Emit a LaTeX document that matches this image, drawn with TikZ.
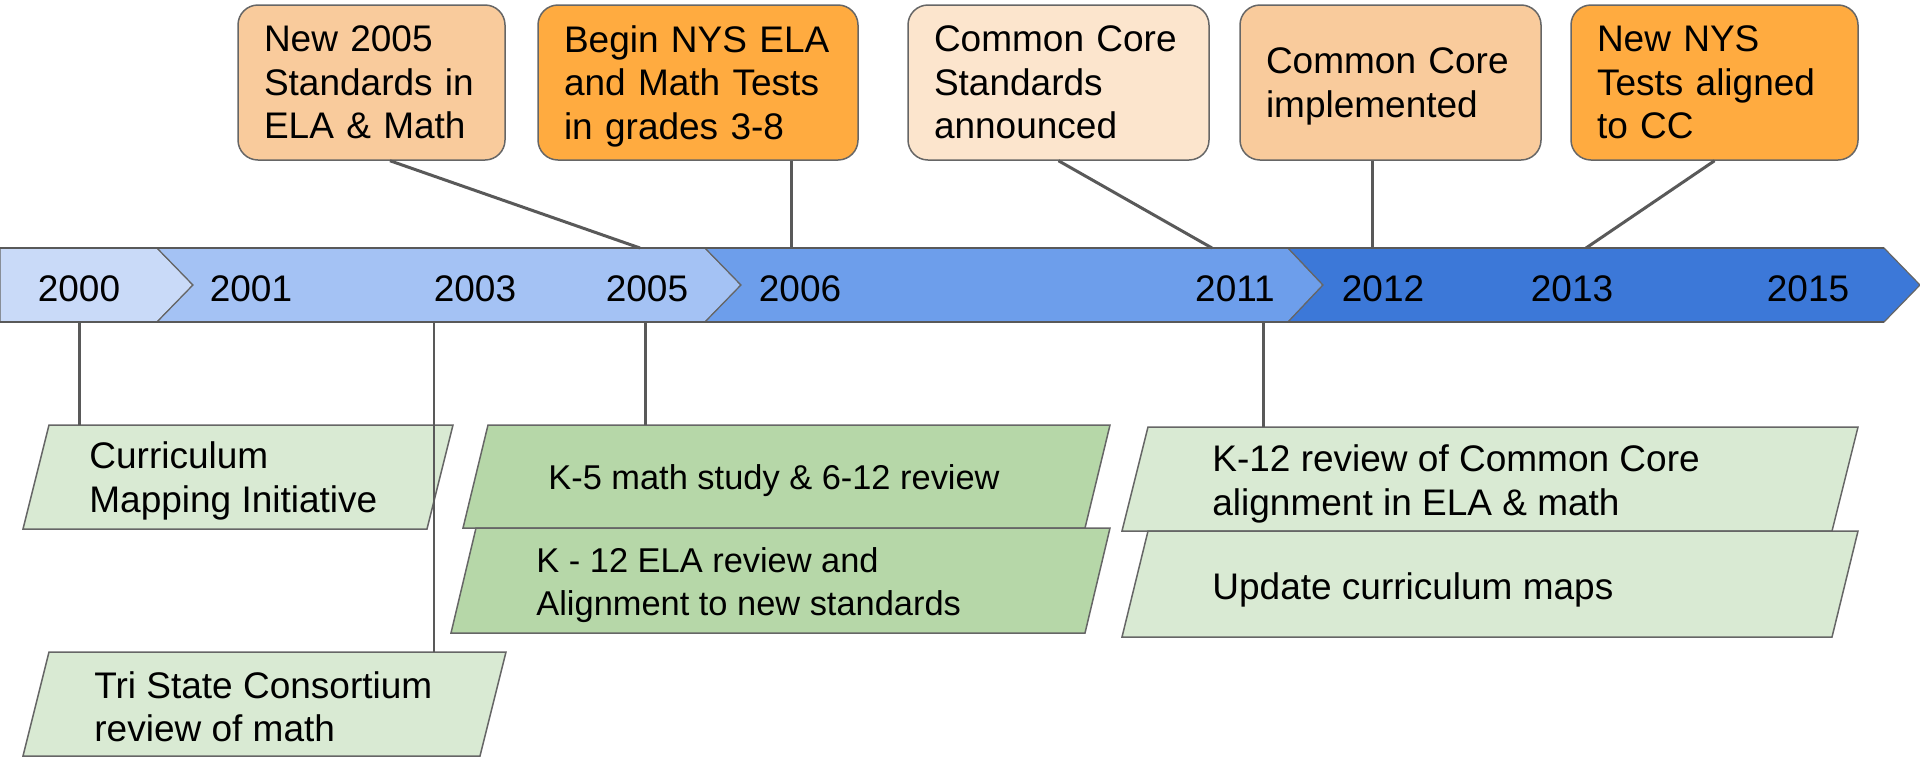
\documentclass[tikz,border=0pt]{standalone}
\usepackage{fontspec}
\setmainfont{Liberation Sans}
\usepackage{xcolor}

\definecolor{yrone}{HTML}{C9DAF8}
\definecolor{yrtwo}{HTML}{A4C2F4}
\definecolor{yrthree}{HTML}{6D9EEB}
\definecolor{yrfour}{HTML}{3C78D8}
\definecolor{peach}{HTML}{F9CB9C}
\definecolor{paleorange}{HTML}{FCE5CD}
\definecolor{deeporange}{HTML}{FFAB40}
\definecolor{palegreen}{HTML}{D9EAD3}
\definecolor{midgreen}{HTML}{B6D7A8}
\definecolor{edgegray}{HTML}{666666}
\definecolor{linkgray}{HTML}{595959}

\newcommand{\tlfont}{\fontsize{18.5}{21.75}\selectfont}
\newcommand{\smallfont}{\fontsize{17.2}{21.5}\selectfont}
% last line without descender depth
\newcommand{\nodp}[1]{\raisebox{0pt}[\height][0pt]{#1}}

\tikzset{
  event/.style={draw=edgegray, line width=0.75pt, rounded corners=10pt, align=left,
    inner xsep=13pt, inner ysep=0pt, minimum height=77.5pt, font=\tlfont},
  year/.style={font=\tlfont, inner sep=0pt},
  note/.style={font=\tlfont, align=left, anchor=west, inner sep=0pt},
  para/.style={draw=edgegray, line width=0.75pt},
  band/.style={draw=edgegray, line width=0.6pt},
  link/.style={draw=linkgray, line width=1.5pt}
}

\begin{document}
\begin{tikzpicture}[x=0.5pt, y=-0.5pt]
        \useasboundingbox (0,0) rectangle (1920,756);

        % Timeline band
        \filldraw[band, fill=yrone] (0,248) -- (157,248) -- (193,285) -- (157,322) -- (0,322) -- cycle;
        \filldraw[band, fill=yrtwo] (157,248) -- (705,248) -- (741,285) -- (705,322) -- (157,322) -- (193,285) -- cycle;
        \filldraw[band, fill=yrthree] (705,248) -- (1288,248) -- (1323,285) -- (1288,322) -- (705,322) -- (741,285) -- cycle;
        \filldraw[band, fill=yrfour] (1288,248) -- (1884,248) -- (1920,285) -- (1884,322) -- (1288,322) -- (1323,285) -- cycle;
        \draw[draw=linkgray, line width=1.1pt] (0,248) -- (1884,248);
        \draw[draw=linkgray, line width=1.1pt] (0,322) -- (1884,322);

        % Years
        \node[year] (y2000) at (79,289) {2000};
        \node[year] (y2001) at (251,289) {2001};
        \node[year] (y2003) at (475,289) {2003};
        \node[year] (y2005) at (647,289) {2005};
        \node[year] (y2006) at (800,289) {2006};
        \node[year] (y2011) at (1235,289) {2011};
        \node[year] (y2012) at (1383,289) {2012};
        \node[year] (y2013) at (1572,289) {2013};
        \node[year] (y2015) at (1808,289) {2015};

        % Points on the band
        \coordinate (t05) at (640,248);
        \coordinate (t06) at (791,248);
        \coordinate (t11) at (1212,248);
        \coordinate (t12) at (1372,248);
        \coordinate (t13) at (1586,248);
        \coordinate (b00) at (79,322);
        \coordinate (b03) at (434,322);
        \coordinate (b05) at (645,322);
        \coordinate (b11) at (1263,322);

        % Events above
        \node[event, fill=peach, text width=107.5pt] (std05) at (371.5,82.5) {New 2005\\Standards in\\ELA \& Math};
        \node[event, fill=deeporange, text width=134pt] (nys) at (698,82.5) {Begin NYS ELA\\and Math Tests\\\nodp{in grades 3-8}};
        \node[event, fill=paleorange, text width=124.5pt] (ccss) at (1058.5,82.5) {Common Core\\Standards\\announced};
        \node[event, fill=peach, text width=124.5pt] (impl) at (1390.5,82.5) {Common Core\\\nodp{implemented}};
        \node[event, fill=deeporange, text width=117.5pt] (nyscc) at (1714.5,82.5) {New NYS\\Tests aligned\\to CC};

        \draw[link] ([xshift=9.25pt]std05.south) -- (t05);
        \draw[link] (t06 |- nys.south) -- (t06);
        \draw[link] (ccss.south) -- (t11);
        \draw[link] (t12 |- impl.south) -- (t12);
        \draw[link] (nyscc.south) -- (t13);

        % Work below
        \filldraw[para, fill=palegreen] (23,529) -- (49,425) coordinate (p1top) -- (453,425) -- (427,529) -- cycle;
        \filldraw[para, fill=palegreen] (23,756) -- (49,652) coordinate (p2top) -- (506,652) -- (480,756) -- cycle;
        \filldraw[para, fill=midgreen] (463,528) -- (488,425) coordinate (p3top) -- (1110,425) -- (1085,528) -- cycle;
        \filldraw[para, fill=midgreen] (451,633) -- (476,528) -- (1110,528) -- (1085,633) -- cycle;
        \filldraw[para, fill=palegreen] (1122,531) -- (1148,427) coordinate (p5top) -- (1858,427) -- (1832,531) -- cycle;
        \filldraw[para, fill=palegreen] (1122,637) -- (1148,531) -- (1858,531) -- (1832,637) -- cycle;

        \node[note] (curmap) at (89,477) {Curriculum\\\nodp{Mapping Initiative}};
        \node[note] (tristate) at (94,707) {Tri State Consortium\\review of math};
        \node[note, font=\smallfont] (kfive) at (548,477) {\nodp{K-5 math study \& 6-12 review}};
        \node[note, font=\smallfont] (kela) at (536,585.5) {K - 12 ELA review and\\Alignment to new standards};
        \node[note] (kcc) at (1212,484) {K-12 review of Common Core\\alignment in ELA \& math};
        \node[note] (maps) at (1212,586) {\nodp{Update curriculum maps}};

        \draw[link] (b00) -- (b00 |- p1top);
        \draw[draw=linkgray, line width=0.75pt] (b03) -- (b03 |- p2top);
        \draw[link] (b05) -- (b05 |- p3top);
        \draw[link] (b11) -- (b11 |- p5top);
    \end{tikzpicture}
\end{document}
